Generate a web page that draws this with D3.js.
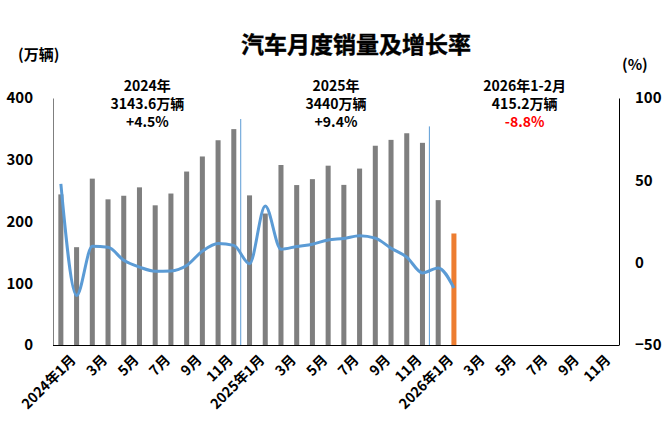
<!DOCTYPE html>
<html><head><meta charset="utf-8">
<script src="https://cdn.jsdelivr.net/npm/d3@7"></script>
<style>
body{margin:0;background:#fff;}
text{font-family:"Noto Sans CJK SC","Open Sans",sans-serif;font-weight:bold;}
</style></head>
<body><svg id="c" width="668" height="435"></svg>
<script>
const months = [];
for (const y of [2024, 2025, 2026]) for (let m = 1; m <= 12; m++) months.push(y + "-" + m);
const sales = [243.9,158.4,269.4,235.9,241.7,255.3,226.2,245.3,280.9,305.3,331.6,349.6,
               242.3,212.9,291.5,259.0,268.6,290.4,259.3,285.7,322.7,332.2,342.9,327.4,
               234.6,180.6];
const growth = [47.9,-19.9,9.9,9.3,1.5,-2.7,-5.2,-5.0,-1.7,7.0,11.7,10.5,
                -0.6,34.4,8.2,9.8,11.2,13.8,14.7,16.4,14.9,8.8,3.4,-6.2,
                -3.2,-15.4];
const highlightIndex = 25;
const xTickLabels = ["2024年1月","3月","5月","7月","9月","11月","2025年1月","3月","5月","7月","9月","11月","2026年1月","3月","5月","7月","9月","11月"];
const leftTicks = [0,100,200,300,400];
const rightTicks = [-50,0,50,100];
const annotations = [
  {at: 5.5, lines: ["2024年","3143.6万辆","+4.5%"]},
  {at: 17.5, lines: ["2025年","3440万辆","+9.4%"]},
  {at: 29.5, lines: ["2026年1-2月","415.2万辆","-8.8%"]}
];
const dividers = [{after: 11, top: 366}, {after: 23, top: 354}];

const svg = d3.select("#c");
const L = 53, R = 619, T = 98, B = 345;
const x = d3.scaleBand().domain(months).range([L, R]).paddingInner(0.68).paddingOuter(0.34);
const yL = d3.scaleLinear().domain([0, 400]).range([B, T]);
const yR = d3.scaleLinear().domain([-50, 100]).range([B, T]);
const cx = i => x(months[i]) + x.bandwidth() / 2;
const step = x.step();

// title
svg.append("text").attr("x", 356).attr("y", 53).attr("text-anchor", "middle")
  .attr("font-size", 23).attr("fill", "#000").attr("stroke", "#000").attr("stroke-width", 0.4)
  .text("汽车月度销量及增长率");
svg.append("text").attr("x", 18).attr("y", 60).attr("font-size", 15).text("(万辆)");
svg.append("text").attr("x", 622).attr("y", 70).attr("font-size", 15).text("(%)");

// bars
svg.append("g").selectAll("rect").data(sales).join("rect")
  .attr("x", (d, i) => x(months[i])).attr("width", x.bandwidth())
  .attr("y", d => yL(d)).attr("height", d => B - yL(d))
  .attr("fill", (d, i) => i === highlightIndex ? "#ED7D31" : "#7F7F7F");

// dividers
svg.append("g").selectAll("line").data(dividers).join("line")
  .attr("x1", d => x(months[d.after]) + step * 0.6).attr("x2", d => x(months[d.after]) + step * 0.6)
  .attr("y1", d => yL(d.top)).attr("y2", B)
  .attr("stroke", "#5B9BD5").attr("stroke-width", 1);

// line
const line = d3.line().x((d, i) => cx(i)).y(d => yR(d)).curve(d3.curveMonotoneX);
svg.append("path").datum(growth).attr("d", line).attr("fill", "none")
  .attr("stroke", "#5B9BD5").attr("stroke-width", 3).attr("stroke-linejoin", "round");

// axes
const axL = svg.append("g").attr("transform", `translate(${L},0)`)
  .call(d3.axisLeft(yL).tickValues(leftTicks).tickSize(0).tickPadding(20));
axL.select(".domain").attr("stroke", "#7F7F7F");
axL.selectAll("text").attr("font-size", 15).attr("fill", "#000").attr("font-family", "'Open Sans',sans-serif");
const axR = svg.append("g").attr("transform", `translate(${R},0)`)
  .call(d3.axisRight(yR).tickValues(rightTicks).tickSize(0).tickPadding(16));
axR.select(".domain").attr("stroke", "#000");
axR.selectAll("text").attr("font-size", 15).attr("fill", "#000").attr("font-family", "'Open Sans',sans-serif");
const xTickMonths = months.filter((m, i) => i % 2 === 0);
const axB = svg.append("g").attr("transform", `translate(0,${B})`)
  .call(d3.axisBottom(x).tickValues(xTickMonths).tickSize(0).tickFormat((d, i) => xTickLabels[i]));
axB.select(".domain").attr("stroke", "#000").attr("d", `M${L},0.5H${R}`);
axB.selectAll(".tick text").attr("font-size", 14).attr("fill", "#000")
  .attr("text-anchor", "end").attr("transform", "translate(7,7) rotate(-45)").attr("dy", "0.9em").attr("y", 0);

// annotations
annotations.forEach(a => {
  const ax = x(months[Math.floor(a.at)]) + step * 0.5 + x.bandwidth() / 2;
  a.lines.forEach((t, j) => {
    svg.append("text").attr("x", ax).attr("y", 91 + j * 18).attr("text-anchor", "middle")
      .attr("font-size", 14).attr("fill", (t.startsWith("-") ? "#FF0000" : "#000")).text(t);
  });
});
</script></body></html>
